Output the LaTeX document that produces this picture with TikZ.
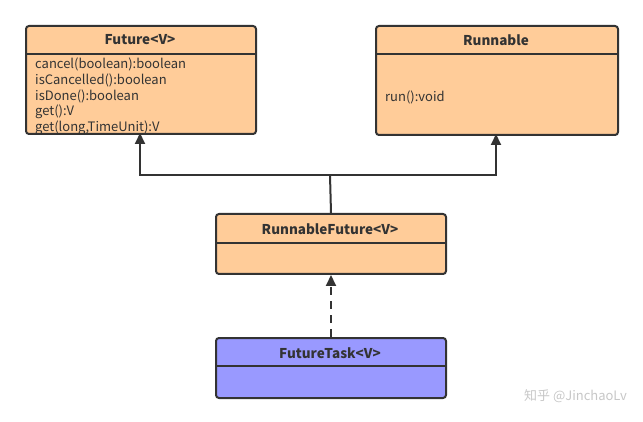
\documentclass[tikz,border=0pt]{standalone}
\usepackage{fontspec}
\setmainfont{Noto Sans CJK SC}
\newfontfamily\cjk{Noto Sans CJK SC}
\usetikzlibrary{arrows.meta}
\definecolor{orangefill}{HTML}{FFCC99}
\definecolor{purplefill}{HTML}{9999FF}
\definecolor{edge}{HTML}{333333}
\begin{document}
\begin{tikzpicture}[x=1pt,y=-1pt,
  classbox/.style={draw=edge,line width=2pt,rounded corners=3pt,anchor=north west,inner sep=0pt},
  divider/.style={draw=edge,line width=1.6pt},
  title/.style={font=\bfseries\fontsize{13.5}{15}\selectfont,text=edge,inner sep=0pt},
  member/.style={font=\fontsize{13}{15}\selectfont,text=edge,inner sep=0pt,anchor=west},
  link/.style={draw=edge,line width=2pt,-{Triangle[length=11pt,width=10pt]}}]
\useasboundingbox (0,0) rectangle (643,422);
% Future
\node[classbox,fill=orangefill,minimum width=230pt,minimum height=108pt] (fut) at (25,25) {};
\draw[divider] (25,54) -- (255,54);
\node[title] (futt) at (140,40) {Future<V>};
\node[member] (m1) at (35,64) {cancel(boolean):boolean};
\node[member] (m2) at (35,80) {isCancelled():boolean};
\node[member] (m3) at (35,96) {isDone():boolean};
\node[member] (m4) at (35,112) {get():V};
\node[member] (m5) at (35,127.5) {get(long,TimeUnit):V};
% Runnable
\node[classbox,fill=orangefill,minimum width=242pt,minimum height=109pt] (run) at (375,25) {};
\draw[divider] (375,54) -- (617,54);
\node[title] (runt) at (496,40) {Runnable};
\node[member] (r1) at (385,97) {run():void};
% RunnableFuture
\node[classbox,fill=orangefill,minimum width=230pt,minimum height=60pt] (rf) at (215,213) {};
\draw[divider] (215,243) -- (445,243);
\node[title] (rft) at (330,229) {RunnableFuture<V>};
% FutureTask
\node[classbox,fill=purplefill,minimum width=230pt,minimum height=60pt] (ft) at (215,337) {};
\draw[divider] (215,366) -- (445,366);
\node[title] (ftt) at (330,353) {FutureTask<V>};
% connectors
\coordinate (j) at (330,175);
\draw[draw=edge,line width=2pt] (rf.north) -- (j);
\draw[link] (j) -- (140,175) -- (140,133);
\draw[link] (j) -- (496,175) -- (496,134);
\draw[link,dash pattern=on 8pt off 6pt] (ft.north) -- (rf.south);
% watermark
\node[font=\cjk\fontsize{13}{15}\selectfont,text=black!22,anchor=east,inner sep=0pt] (wm) at (627,396) {知乎 @JinchaoLv};
\end{tikzpicture}
\end{document}
